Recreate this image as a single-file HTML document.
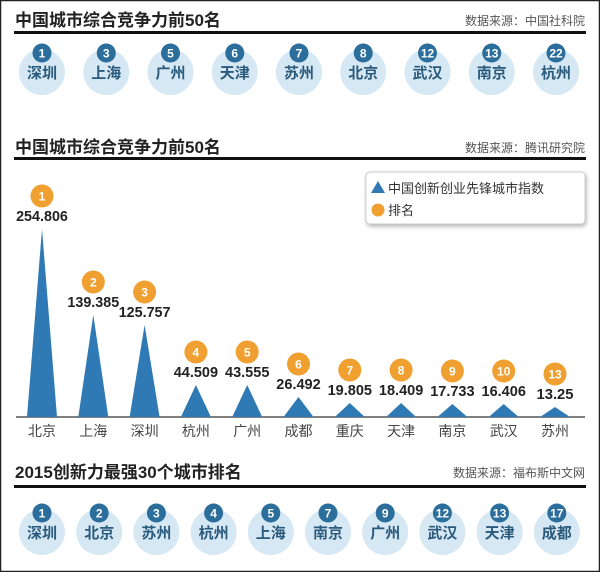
<!DOCTYPE html>
<html><head><meta charset="utf-8"><style>
body{margin:0;width:600px;height:572px;overflow:hidden;background:#fff}
svg text{font-family:"Liberation Sans","Noto Sans CJK SC",sans-serif}
</style></head><body>
<svg width="600" height="572" viewBox="0 0 600 572" xmlns="http://www.w3.org/2000/svg">
<rect x="0.5" y="0.5" width="599" height="571" fill="#fff" stroke="#222" stroke-width="1.5"/>
<text x="15" y="26" font-size="17" font-weight="bold" fill="#222">中国城市综合竞争力前50名</text>
<text x="585" y="25" font-size="12" fill="#555" text-anchor="end">数据来源：中国社科院</text>
<rect x="14" y="31" width="572" height="3" fill="#111"/>
<g id="r1"></g>
<text x="15" y="153" font-size="17" font-weight="bold" fill="#222">中国城市综合竞争力前50名</text>
<text x="585" y="152" font-size="12" fill="#555" text-anchor="end">数据来源：腾讯研究院</text>
<rect x="14" y="157" width="572" height="3" fill="#111"/>
<rect x="366" y="172" width="219" height="52" rx="4" fill="#fff" stroke="#ccc" filter="drop-shadow(1px 2px 2px rgba(0,0,0,0.3))"/>
<polygon points="371,193 378,181 385,193" fill="#2f7ab5"/>
<text x="388" y="193" font-size="13" fill="#333">中国创新创业先锋城市指数</text>
<circle cx="378" cy="210" r="6.5" fill="#f0a030"/>
<text x="388" y="215" font-size="13" fill="#333">排名</text>
<line x1="16" y1="417" x2="585" y2="417" stroke="#333" stroke-width="1.2"/>
<g id="chart"></g>
<text x="15" y="478" font-size="17" font-weight="bold" fill="#222">2015创新力最强30个城市排名</text>
<text x="585" y="477" font-size="12" fill="#555" text-anchor="end">数据来源：福布斯中文网</text>
<rect x="14" y="485" width="572" height="3" fill="#111"/>
<g id="r3"></g>
</svg>
<script>
var NS="http://www.w3.org/2000/svg";
function el(p,t,a,txt){var e=document.createElementNS(NS,t);for(var k in a)e.setAttribute(k,a[k]);if(txt!==undefined)e.textContent=txt;p.appendChild(e);return e;}
function row(id,cy,by,items,sp,r){var g=document.getElementById(id);
items.forEach(function(it,i){var x=42+i*sp;
el(g,'circle',{cx:x,cy:cy,r:r,fill:'#d6e8f3'});
el(g,'circle',{cx:x,cy:by,r:9.5,fill:'#2b6e9b'});
el(g,'text',{x:x,y:by+4.5,'font-size':12,'font-weight':'bold',fill:'#fff','text-anchor':'middle'},it[0]);
el(g,'text',{x:x,y:cy+6,'font-size':15,'font-weight':'bold',fill:'#2a5a7c','text-anchor':'middle'},it[1]);
});}
row('r1',72,53,[['1','深圳'],['3','上海'],['5','广州'],['6','天津'],['7','苏州'],['8','北京'],['12','武汉'],['13','南京'],['22','杭州']],64.25,23);
row('r3',532,513,[['1','深圳'],['2','北京'],['3','苏州'],['4','杭州'],['5','上海'],['7','南京'],['9','广州'],['12','武汉'],['13','天津'],['17','成都']],57.2,23);
var g=document.getElementById('chart');
var d=[['北京','254.806',1,229],['上海','139.385',2,315],['深圳','125.757',3,325],['杭州','44.509',4,385],['广州','43.555',5,385],['成都','26.492',6,397],['重庆','19.805',7,403],['天津','18.409',8,403],['南京','17.733',9,404],['武汉','16.406',10,404],['苏州','13.25',13,407]];
d.forEach(function(it,i){var x=42+i*51.3;var t=it[3];
el(g,'polygon',{points:(x-15)+',417 '+x+','+t+' '+(x+15)+',417',fill:'#2f7ab5'});
el(g,'text',{x:x,y:t-8,'font-size':15,'font-weight':'bold',fill:'#222','text-anchor':'middle','textLength':(it[1].length*7.4).toFixed(1),'lengthAdjust':'spacingAndGlyphs'},it[1]);
el(g,'circle',{cx:x,cy:t-33,r:11.5,fill:'#f0a030'});
el(g,'text',{x:x,y:t-28.5,'font-size':12,'font-weight':'bold',fill:'#fff','text-anchor':'middle'},it[2]);
el(g,'text',{x:x,y:436,'font-size':14,fill:'#444','text-anchor':'middle'},it[0]);
});
</script>
</body></html>
